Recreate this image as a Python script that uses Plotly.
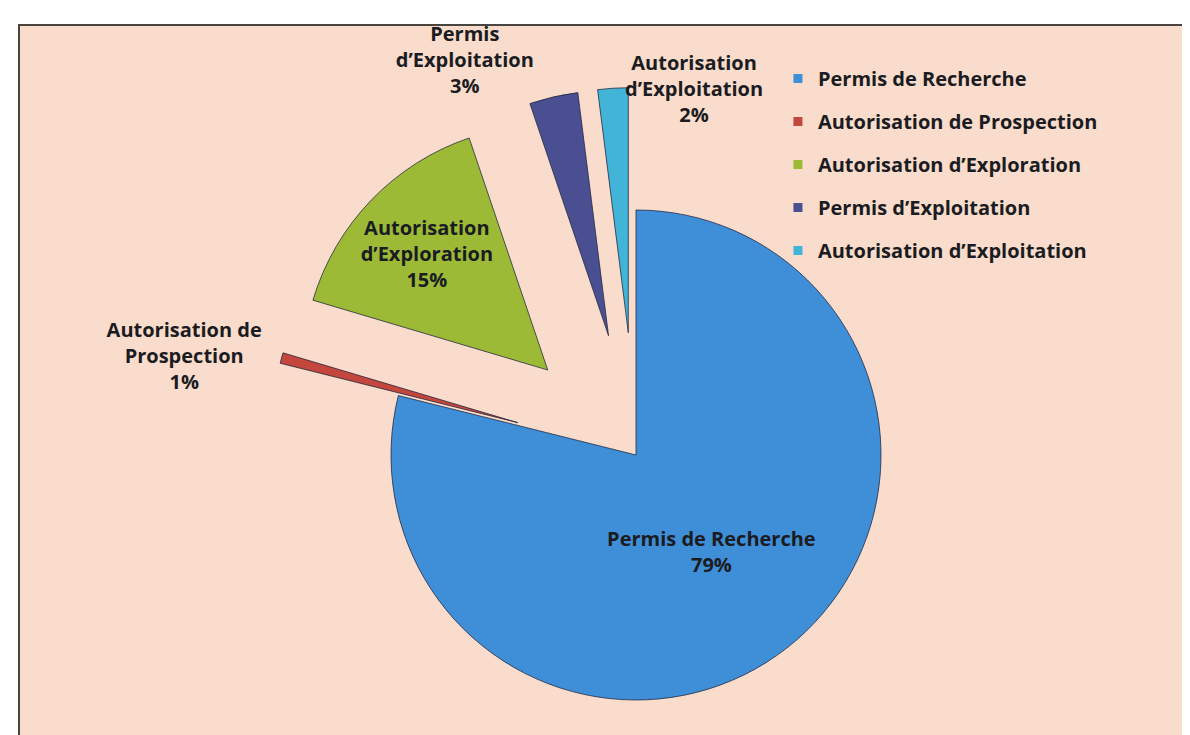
import math
import plotly.graph_objects as go

# ---- data ----
labels = [
    "Permis de Recherche",
    "Autorisation de Prospection",
    "Autorisation d’Exploration",
    "Permis d’Exploitation",
    "Autorisation d’Exploitation",
]
values = [78.9, 0.7, 15.2, 3.2, 2.0]
slice_text = [
    "Permis de Recherche",
    "Autorisation de<br>Prospection",
    "Autorisation<br>d’Exploration",
    "Permis<br>d’Exploitation",
    "Autorisation<br>d’Exploitation",
]
colors = ["#3f8fd8", "#c4473d", "#9cba36", "#4a4f92", "#41b4d8"]
pulls = [0.0, 0.5, 0.5, 0.5, 0.5]
text_modes = ["inside", "outside", "inside", "outside", "annotation"]

# ---- layout geometry (pixels) ----
W, H = 1190, 735
CX, CY, R = 628, 447, 245
FONT = dict(family="Open Sans, Lato, sans-serif", size=20, color="#1b1b22", weight="bold")

total = sum(values)
fig = go.Figure()
annotations = []
cum = 0.0
for i, v in enumerate(values):
    theta = 2 * math.pi * (cum + v / 2) / total
    cum += v
    sx, sy = math.sin(theta), -math.cos(theta)
    cx = CX + pulls[i] * R * sx
    cy = CY + pulls[i] * R * sy
    n = len(values)
    mcolors = [colors[j] if j == i else "rgba(0,0,0,0)" for j in range(n)]
    lwidth = [1 if j == i else 0 for j in range(n)]
    if text_modes[i] == "annotation":
        tpos = ["none"] * n
        ttemp = [""] * n
        tipx = cx + R * sx
        tipy = cy + R * sy
        annotations.append(dict(
            x=(tipx + 10) / W, y=1 - tipy / H, xref="paper", yref="paper",
            xanchor="left", yanchor="middle", showarrow=False, align="center",
            text=f"{slice_text[i]}<br>{round(v / total * 100)}%", font=FONT,
        ))
    else:
        tpos = [text_modes[i] if j == i else "none" for j in range(n)]
        ttemp = ["%{text}<br>%{percent:.0%}" if j == i else "" for j in range(n)]
    fig.add_trace(go.Pie(
        labels=labels, values=values, text=slice_text,
        sort=False, direction="clockwise", rotation=0,
        marker=dict(colors=mcolors, line=dict(color="rgba(30,35,60,0.75)", width=lwidth)),
        textposition=tpos, texttemplate=ttemp,
        insidetextorientation="horizontal",
        insidetextfont=FONT, outsidetextfont=FONT,
        domain=dict(x=[(cx - R) / W, (cx + R) / W], y=[1 - (cy + R) / H, 1 - (cy - R) / H]),
        showlegend=False, hoverinfo="label+percent",
    ))

# legend entries
for i, lab in enumerate(labels):
    fig.add_trace(go.Scatter(
        x=[None], y=[None], mode="markers", name=lab, legendgroup=lab,
        marker=dict(symbol="square", size=9, color=colors[i]),
    ))

fig.update_layout(
    width=W, height=H,
    margin=dict(l=0, r=0, t=0, b=0),
    paper_bgcolor="white", plot_bgcolor="rgba(0,0,0,0)",
    font=FONT,
    xaxis=dict(visible=False), yaxis=dict(visible=False),
    legend=dict(x=0.647, y=1 - 51 / H, xanchor="left", yanchor="top",
                bgcolor="rgba(0,0,0,0)", tracegroupgap=14, font=FONT,
                itemclick=False, itemwidth=30),
    shapes=[dict(type="rect", xref="paper", yref="paper",
                 x0=11 / W, x1=1183 / W, y0=1 - 733 / H, y1=1 - 17 / H,
                 fillcolor="#f9dccb", line=dict(color="#4a4440", width=2),
                 layer="below")],
    annotations=annotations,
)
fig.write_html("out.html")
